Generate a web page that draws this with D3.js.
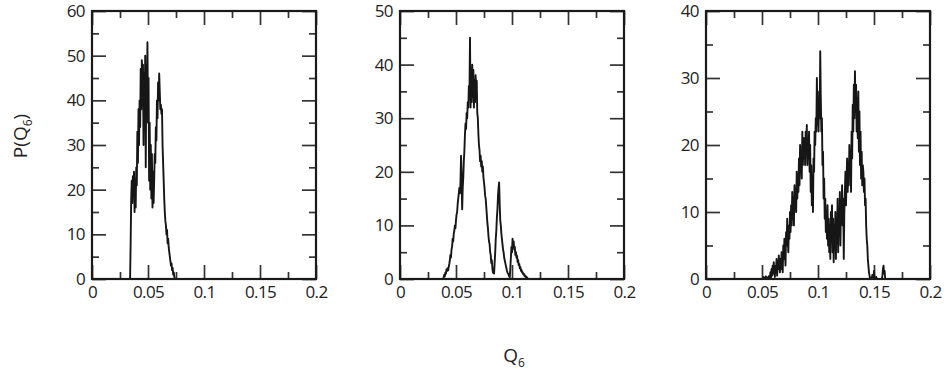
<!DOCTYPE html>
<html><head><meta charset="utf-8">
<script src="https://cdn.jsdelivr.net/npm/d3@7"></script>
<style>
body{margin:0;background:#fff;}
svg text{fill:#222;}
</style></head><body>
<svg id="c" width="947" height="377"></svg>
<script>
// ---- data ----
const q1=[0.0335,0.034,0.0345,0.035,0.0355,0.036,0.0365,0.037,0.0375,0.038,0.0385,0.039,0.0395,0.04,0.0405,0.041,0.0415,0.042,0.0425,0.043,0.0435,0.044,0.0445,0.045,0.0455,0.046,0.0465,0.047,0.0475,0.048,0.0485,0.049,0.0495,0.05,0.0505,0.051,0.0515,0.052,0.0525,0.053,0.0535,0.054,0.0545,0.055,0.0555,0.056,0.0565,0.057,0.0575,0.058,0.0585,0.059,0.0595,0.06,0.0605,0.061,0.0615,0.062,0.0625,0.063,0.0635,0.064,0.0645,0.065,0.0655,0.066,0.0665,0.067,0.0675,0.068,0.0685,0.069,0.0695,0.07,0.0705,0.071,0.0715,0.072,0.0725,0.073,0.0735,0.074];
const p1=[0,0,8,18,22,17,23,20,24,15,22,16,25,21,33,26,38,30,40,34,47,38,49,41,48,30,46,36,50,25,48,40,53,35,45,22,35,20,30,18,28,16,24,17,22,28,26,34,31,40,36,44,40,46,42,38,39,37,38,30,26,22,18,15,13,12,10,11,8,9,7,6,5,4,3,3.5,2,2.5,1,1.5,0.5,0];

const q2=[0.0385,0.039,0.0395,0.04,0.0405,0.041,0.0415,0.042,0.0425,0.043,0.0435,0.044,0.0445,0.045,0.0455,0.046,0.0465,0.047,0.0475,0.048,0.0485,0.049,0.0495,0.05,0.0505,0.051,0.0515,0.052,0.0525,0.053,0.0535,0.054,0.0545,0.055,0.0555,0.056,0.0565,0.057,0.0575,0.058,0.0585,0.059,0.0595,0.06,0.0605,0.061,0.0615,0.062,0.0625,0.063,0.0635,0.064,0.0645,0.065,0.0655,0.066,0.0665,0.067,0.0675,0.068,0.0685,0.069,0.0695,0.07,0.0705,0.071,0.0715,0.072,0.0725,0.073,0.0735,0.074,0.0745,0.075,0.0755,0.076,0.0765,0.077,0.0775,0.078,0.0785,0.079,0.0795,0.08,0.0805,0.081,0.0815,0.082,0.0825,0.083,0.0835,0.084,0.0845,0.085,0.0855,0.086,0.0865,0.087,0.0875,0.088,0.0885,0.089,0.0895,0.09,0.0905,0.091,0.0915,0.092,0.0925,0.093,0.0935,0.094,0.0945,0.095,0.0955,0.096,0.0965,0.097,0.0975,0.098,0.0985,0.099,0.0995,0.1,0.1005,0.101,0.1015,0.102,0.1025,0.103,0.1035,0.104,0.1045,0.105,0.1055,0.106,0.1065,0.107,0.1075,0.108,0.1085,0.109,0.1095,0.11,0.1105,0.111,0.1115,0.112,0.1125,0.113,0.1135,0.114,0.1145];
const p2=[0,0.3,0.8,0.5,1.2,1,1.8,1.5,2,1.6,2.2,2.8,3.5,4.5,4,5.5,6,7.5,7,8.5,9,10,9.5,11,12,12.5,14,15,16,17,16,18,23,19,13,17,19,22,24,27,29,28,31,30,33,32,36,34,45,32,38,33,40,34,39,32,37,33,38,35,37,31,30,27,25,24,22,23,21,22,20,21,19,18,17,15.5,15,13.5,12,10.5,9.5,8,7,6.5,5,4.5,3,3.5,2,1.2,1.5,1,3,5,7.5,9,11.5,13,15.5,17,18,14,11,10,8.5,7.5,6.5,5.5,5,4,3.5,3,2.5,2,1.5,1.2,1,0.8,0.5,0.3,2,4,6,5,7.5,6,7,5.5,6,4.5,5,4,4.3,3.2,3.5,2.6,2.8,2,2.2,1.5,1.7,1.2,1.3,0.9,1,0.6,0.7,0.4,0.5,0.2,0.3,0.1,0];

const q3=[0.05,0.0505,0.051,0.0515,0.052,0.0525,0.053,0.0535,0.054,0.0545,0.055,0.0555,0.056,0.0565,0.057,0.0575,0.058,0.0585,0.059,0.0595,0.06,0.0605,0.061,0.0615,0.062,0.0625,0.063,0.0635,0.064,0.0645,0.065,0.0655,0.066,0.0665,0.067,0.0675,0.068,0.0685,0.069,0.0695,0.07,0.0705,0.071,0.0715,0.072,0.0725,0.073,0.0735,0.074,0.0745,0.075,0.0755,0.076,0.0765,0.077,0.0775,0.078,0.0785,0.079,0.0795,0.08,0.0805,0.081,0.0815,0.082,0.0825,0.083,0.0835,0.084,0.0845,0.085,0.0855,0.086,0.0865,0.087,0.0875,0.088,0.0885,0.089,0.0895,0.09,0.0905,0.091,0.0915,0.092,0.0925,0.093,0.0935,0.094,0.0945,0.095,0.0955,0.096,0.0965,0.097,0.0975,0.098,0.0985,0.099,0.0995,0.1,0.1005,0.101,0.1015,0.102,0.1025,0.103,0.1035,0.104,0.1045,0.105,0.1055,0.106,0.1065,0.107,0.1075,0.108,0.1085,0.109,0.1095,0.11,0.1105,0.111,0.1115,0.112,0.1125,0.113,0.1135,0.114,0.1145,0.115,0.1155,0.116,0.1165,0.117,0.1175,0.118,0.1185,0.119,0.1195,0.12,0.1205,0.121,0.1215,0.122,0.1225,0.123,0.1235,0.124,0.1245,0.125,0.1255,0.126,0.1265,0.127,0.1275,0.128,0.1285,0.129,0.1295,0.13,0.1305,0.131,0.1315,0.132,0.1325,0.133,0.1335,0.134,0.1345,0.135,0.1355,0.136,0.1365,0.137,0.1375,0.138,0.1385,0.139,0.1395,0.14,0.1405,0.141,0.1415,0.142,0.1425,0.143,0.1435,0.144,0.1445,0.145,0.1455,0.146,0.1465,0.147,0.1475,0.148,0.1485,0.149,0.1495,0.15,0.1505,0.151,0.1515,0.152,0.1525,0.153,0.154,0.155,0.156,0.157,0.1575,0.158,0.1585,0.159,0.1595,0.16,0.161];
const p3=[0,0,0,0.3,0,0,0,0.4,0,0,0,0.3,0,0.5,0,1,0.2,1.5,0.5,2,0.8,2.5,1,0.3,2,1.2,3,0.5,2.5,1.5,3.5,2,1,3,1.5,4,2.5,1,5,3,6,4,2,7,5,9,6,4,8,6,10,7,11,8,13,9,12,8,14,11,13,10,16,12,15,13,18,14,20,16,19,15,22,17,21,18,21,17,22,19,23,17,21,18,22,16,20,13,17,11,15,10,18,16,22,20,24,22,30,23,26,22,28,24,34,27,22,24,17,19,12,15,9,12,7,10,6,11,5,9,4,8,3,10,6,11,4,9,2.5,8,5,10,3,9,6,12,4,10,7,13,5,11,9,14,8,12,3,10,13,16,11,15,18,13,17,14,20,16,19,13,22,18,26,22,29,24,31,25,29,22,27,21,28,19,25,17,22,15,19,14,17,16,13,15,11,12,8,6,5,3,2,1,0.5,0,0.2,0,0,0.6,0,0,1.2,0,0,0,0.3,0,0,0,0,0,0,0.5,1.5,2,0.8,1.2,0,0];

const series=[{q:q1,p:p1},{q:q2,p:p2},{q:q3,p:p3}];
const xTicks=[0,0.05,0.1,0.15,0.2];
const xTickLabels=["0","0.05","0.1","0.15","0.2"];
const xMinor=[0.025,0.075,0.125,0.175];
const yMaxes=[60,50,40];
const yTicksList=[[0,10,20,30,40,50,60],[0,10,20,30,40,50],[0,10,20,30,40]];
const yMinorList=[[5,15,25,35,45,55],[5,15,25,35,45],[5,15,25,35]];
const yTitle=["P(Q","6",")"];
const xTitle=["Q","6"];

// ---- layout ----
const svg=d3.select("#c");
const lefts=[92,400,706], W=224, TOP=11, BOT=279;
const tickFont='"Open Sans","Roboto",sans-serif';
const titleFont='"Open Sans","Roboto",sans-serif';

series.forEach((s,i)=>{
  const x=d3.scaleLinear().domain([0,0.2]).range([lefts[i],lefts[i]+W]);
  const y=d3.scaleLinear().domain([0,yMaxes[i]]).range([BOT,TOP]);
  const g=svg.append("g");
  const style=ax=>{ax.select(".domain").remove();
    ax.selectAll(".tick line").attr("stroke","#333").attr("stroke-width",1.7);
    ax.selectAll("text").attr("font-size",17).attr("font-family",tickFont).attr("fill","#1a1a1a")
      .attr("letter-spacing","-0.6px");};
  // bottom
  g.append("g").attr("transform",`translate(0,${BOT})`)
   .call(d3.axisBottom(x).tickValues(xTicks).tickFormat((d,k)=>xTickLabels[k]).tickSizeInner(-14).tickSizeOuter(0).tickPadding(7)).call(style);
  g.append("g").attr("transform",`translate(0,${BOT})`)
   .call(d3.axisBottom(x).tickValues(xMinor).tickFormat("").tickSizeInner(-7).tickSizeOuter(0)).call(style);
  // top
  g.append("g").attr("transform",`translate(0,${TOP})`)
   .call(d3.axisTop(x).tickValues(xTicks).tickFormat("").tickSizeInner(-14).tickSizeOuter(0)).call(style);
  g.append("g").attr("transform",`translate(0,${TOP})`)
   .call(d3.axisTop(x).tickValues(xMinor).tickFormat("").tickSizeInner(-7).tickSizeOuter(0)).call(style);
  // left
  g.append("g").attr("transform",`translate(${lefts[i]},0)`)
   .call(d3.axisLeft(y).tickValues(yTicksList[i]).tickFormat(d3.format("d")).tickSizeInner(-14).tickSizeOuter(0).tickPadding(7)).call(style);
  g.append("g").attr("transform",`translate(${lefts[i]},0)`)
   .call(d3.axisLeft(y).tickValues(yMinorList[i]).tickFormat("").tickSizeInner(-7).tickSizeOuter(0)).call(style);
  // right
  g.append("g").attr("transform",`translate(${lefts[i]+W},0)`)
   .call(d3.axisRight(y).tickValues(yTicksList[i]).tickFormat("").tickSizeInner(-14).tickSizeOuter(0)).call(style);
  g.append("g").attr("transform",`translate(${lefts[i]+W},0)`)
   .call(d3.axisRight(y).tickValues(yMinorList[i]).tickFormat("").tickSizeInner(-7).tickSizeOuter(0)).call(style);
  // data line
  const pts=s.q.map((q,k)=>[q,s.p[k]]);
  g.append("path").datum(pts)
   .attr("d",d3.line().x(d=>x(d[0])).y(d=>y(d[1])))
   .attr("fill","none").attr("stroke","#161616").attr("stroke-width",1.9).attr("stroke-linejoin","round");
  // frame
  g.append("rect").attr("x",lefts[i]).attr("y",TOP).attr("width",W).attr("height",BOT-TOP)
   .attr("fill","none").attr("stroke","#1a1a1a").attr("stroke-width",2.2);
});

// y title
const yt=svg.append("text").attr("transform","translate(27,136) rotate(-90)")
  .attr("text-anchor","middle").attr("font-family",titleFont).attr("font-size",19).attr("fill","#222");
yt.append("tspan").text(yTitle[0]);
yt.append("tspan").attr("dy",5).attr("font-size",12).text(yTitle[1]);
yt.append("tspan").attr("dy",-5).text(yTitle[2]);
// x title
const xt=svg.append("text").attr("x",514).attr("y",362)
  .attr("text-anchor","middle").attr("font-family",titleFont).attr("font-size",19).attr("fill","#222");
xt.append("tspan").text(xTitle[0]);
xt.append("tspan").attr("dy",5).attr("font-size",12).text(xTitle[1]);
</script>
</body></html>
